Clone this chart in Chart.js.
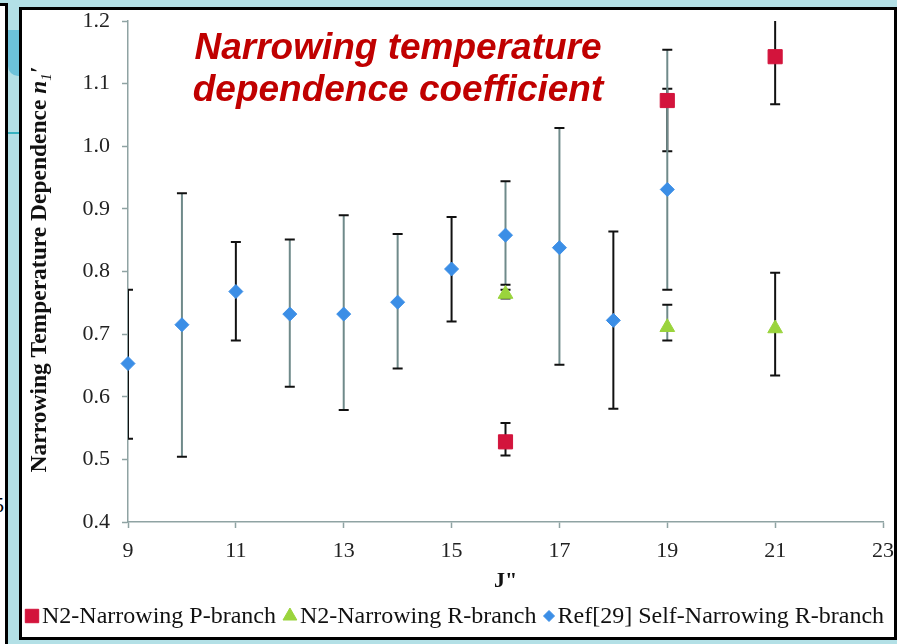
<!DOCTYPE html>
<html>
<head>
<meta charset="utf-8">
<title>Narrowing temperature dependence coefficient</title>
<script src="https://cdn.jsdelivr.net/npm/chart.js@4.4.1/dist/chart.umd.min.js"></script>
<style>
  html, body { margin: 0; padding: 0; }
  body { width: 897px; height: 644px; background: #b3e0e6; position: relative; overflow: hidden; }
  #side { position: absolute; left: -10px; top: 3px; width: 18px; height: 700px; box-sizing: border-box;
          background: #fff; border: 3px solid #000; }
  #side span { position: absolute; right: 1px; top: 488px; font: 20px "Liberation Serif", serif; }
  #band { position: absolute; left: 8px; top: 30px; width: 11px; height: 46px; background: #6cc2da; border-radius: 0 0 0 10px; }
  #rule { position: absolute; left: 8px; top: 132px; width: 11px; height: 2px; background: #37b3c0; }
  #box { position: absolute; left: 19px; top: 7px; width: 878px; height: 633px; box-sizing: border-box;
         background: #fff; border: 3px solid #000; }
  #heading { position: absolute; left: 0; top: 26px; width: 796px; text-align: center;
             font: italic bold 37px/42px "Liberation Sans", Arial, sans-serif; color: #c00000; z-index: 2; }
  #wrap { position: absolute; left: 0; top: 0; width: 897px; height: 644px; z-index: 1; }
</style>
</head>
<body>
<div id="side"><span>5</span></div>
<div id="band"></div>
<div id="rule"></div>
<div id="box"></div>
<div id="wrap"><canvas id="c"></canvas></div>
<div id="heading">Narrowing temperature<br>dependence coefficient</div>

<script>
// Ref[29] self-narrowing, R-branch
var jSelf    = [9, 10, 11, 12, 13, 14, 15, 16, 17, 18, 19];
var selfVal  = [0.653, 0.715, 0.768, 0.732, 0.732, 0.751, 0.804, 0.858, 0.838, 0.722, 0.931];
var selfLow  = [0.533, 0.504, 0.690, 0.616, 0.579, 0.645, 0.720, 0.779, 0.651, 0.581, 0.771];
var selfHigh = [0.771, 0.925, 0.847, 0.851, 0.890, 0.860, 0.887, 0.944, 1.029, 0.864, 1.154];

// N2-narrowing, P-branch
var jP    = [16, 19, 21];
var pVal  = [0.528, 1.073, 1.143];
var pLow  = [0.506, 0.992, 1.067];
var pHigh = [0.558, 1.092, 1.221];

// N2-narrowing, R-branch
var jR    = [16, 19, 21];
var rVal  = [0.764, 0.711, 0.709];
var rLow  = [0.757, 0.690, 0.634];
var rHigh = [0.771, 0.747, 0.798];

var xTicks = { min: 9, max: 23, step: 2 };
var yTicks = { min: 0.4, max: 1.2, step: 0.1 };

var DARK = '#111111', GREY = '#6f8a8a';
var AXIS = '#8fa3a3';
var SERIF = '"Liberation Serif", "Times New Roman", serif';

function pts(xs, ys) {
  return xs.map(function (x, i) { return { x: x, y: ys[i] }; });
}

// vertical error bars, drawn under the markers
var errorBars = {
  id: 'errorBars',
  beforeDatasetsDraw: function (chart) {
    var ctx = chart.ctx, a = chart.chartArea;
    var xs = chart.scales.x, ys = chart.scales.y;
    ctx.save();
    ctx.beginPath();
    ctx.rect(a.left, a.top, a.right - a.left, a.bottom - a.top);
    ctx.clip();
    chart.data.datasets.forEach(function (ds) {
      ds.data.forEach(function (p, i) {
        var px = xs.getPixelForValue(p.x);
        var top = ys.getPixelForValue(ds.errHigh[i]);
        var bot = ys.getPixelForValue(ds.errLow[i]);
        ctx.lineWidth = 2;
        ctx.strokeStyle = ds.barColor[i];
        ctx.beginPath();
        ctx.moveTo(px, top);
        ctx.lineTo(px, bot);
        ctx.stroke();
        ctx.strokeStyle = DARK;
        ctx.beginPath();
        ctx.moveTo(px - 5, top); ctx.lineTo(px + 5, top);
        ctx.moveTo(px - 5, bot); ctx.lineTo(px + 5, bot);
        ctx.stroke();
      });
    });
    ctx.restore();
  }
};

// rotated y title with the italic n1'
var yTitle = {
  id: 'yTitle',
  afterDraw: function (chart) {
    var ctx = chart.ctx, a = chart.chartArea;
    var parts = [
      { t: 'Narrowing Temperature Dependence ', f: 'bold 23.5px ' + SERIF, dy: 0 },
      { t: 'n', f: 'italic bold 23.5px ' + SERIF, dy: 0 },
      { t: '1', f: 'italic 15px ' + SERIF, dy: 5 },
      { t: '\u2032', f: 'italic bold 23.5px ' + SERIF, dy: 0 }
    ];
    ctx.save();
    var total = 0;
    parts.forEach(function (p) { ctx.font = p.f; p.w = ctx.measureText(p.t).width; total += p.w; });
    ctx.translate(38, (a.top + a.bottom) / 2 - 2);
    ctx.rotate(-Math.PI / 2);
    ctx.fillStyle = '#111';
    ctx.textBaseline = 'alphabetic';
    var x = -total / 2;
    parts.forEach(function (p) {
      ctx.font = p.f;
      ctx.fillText(p.t, x, 8 + p.dy);
      x += p.w;
    });
    ctx.restore();
  }
};

// one-row legend along the bottom edge
var legendRow = {
  id: 'legendRow',
  afterDraw: function (chart) {
    var ctx = chart.ctx;
    var cy = 616, x = 25;
    ctx.save();
    ctx.font = '24px ' + SERIF;
    ctx.textBaseline = 'middle';
    chart.data.datasets.forEach(function (ds) {
      var half = ds.legendSize / 2;
      ctx.fillStyle = ds.backgroundColor;
      ctx.strokeStyle = ds.borderColor;
      Chart.helpers.drawPoint(ctx, { pointStyle: ds.pointStyle, radius: ds.legendRadius, rotation: 0, borderWidth: 1 }, x + half, cy);
      x += ds.legendSize + 3;
      ctx.fillStyle = '#111';
      ctx.fillText(ds.label, x, cy + 1);
      x += ctx.measureText(ds.label).width + 7;
    });
    ctx.restore();
  }
};

new Chart(document.getElementById('c'), {
  type: 'scatter',
  data: {
    datasets: [
      {
        label: 'N2-Narrowing P-branch',
        data: pts(jP, pVal),
        errLow: pLow, errHigh: pHigh,
        barColor: [DARK, DARK, DARK],
        pointStyle: 'rect', pointRadius: 10, pointHoverRadius: 10,
        backgroundColor: '#d3143c', borderColor: '#d3143c', borderWidth: 1,
        legendRadius: 9.5, legendSize: 14,
        clip: false, order: 1
      },
      {
        label: 'N2-Narrowing R-branch',
        data: pts(jR, rVal),
        errLow: rLow, errHigh: rHigh,
        barColor: [DARK, GREY, DARK],
        pointStyle: 'triangle', pointRadius: 8.5, pointHoverRadius: 8.5,
        backgroundColor: '#9ad43c', borderColor: '#9ad43c', borderWidth: 1,
        legendRadius: 8, legendSize: 14,
        clip: false, order: 2
      },
      {
        label: 'Ref[29] Self-Narrowing R-branch',
        data: pts(jSelf, selfVal),
        errLow: selfLow, errHigh: selfHigh,
        barColor: [DARK, GREY, DARK, GREY, GREY, GREY, DARK, GREY, GREY, DARK, GREY],
        pointStyle: 'rectRot', pointRadius: 7, pointHoverRadius: 7,
        backgroundColor: '#3b8ee6', borderColor: '#3b8ee6', borderWidth: 1,
        legendRadius: 5.5, legendSize: 11,
        clip: false, order: 3
      }
    ]
  },
  options: {
    responsive: true,
    maintainAspectRatio: false,
    animation: false,
    layout: { padding: { left: 0, top: 21, right: 14, bottom: 44 } },
    plugins: {
      legend: { display: false },
      tooltip: { enabled: false }
    },
    scales: {
      x: {
        type: 'linear',
        min: xTicks.min, max: xTicks.max,
        ticks: { stepSize: xTicks.step, padding: 10, color: '#222', font: { family: SERIF, size: 22 } },
        grid: { drawOnChartArea: false, color: AXIS, tickLength: 6, tickWidth: 1.5 },
        border: { color: AXIS, width: 1.5 },
        title: { display: true, text: 'J"', color: '#111', padding: { top: 0, bottom: 5 },
                 font: { family: SERIF, size: 22, weight: 'bold' } },
        afterFit: function (s) { s.height = 78; s.paddingLeft = 0; s.paddingRight = 0; }
      },
      y: {
        min: yTicks.min, max: yTicks.max,
        ticks: {
          stepSize: yTicks.step, padding: 12, color: '#222', font: { family: SERIF, size: 22 },
          callback: function (v) { return v.toFixed(1); }
        },
        grid: { drawOnChartArea: false, color: AXIS, tickLength: 6, tickWidth: 1.5 },
        border: { color: AXIS, width: 1.5 },
        afterFit: function (s) { s.width = 128; s.paddingTop = 0; s.paddingBottom = 0; }
      }
    }
  },
  plugins: [errorBars, yTitle, legendRow]
});
</script>
</body>
</html>
